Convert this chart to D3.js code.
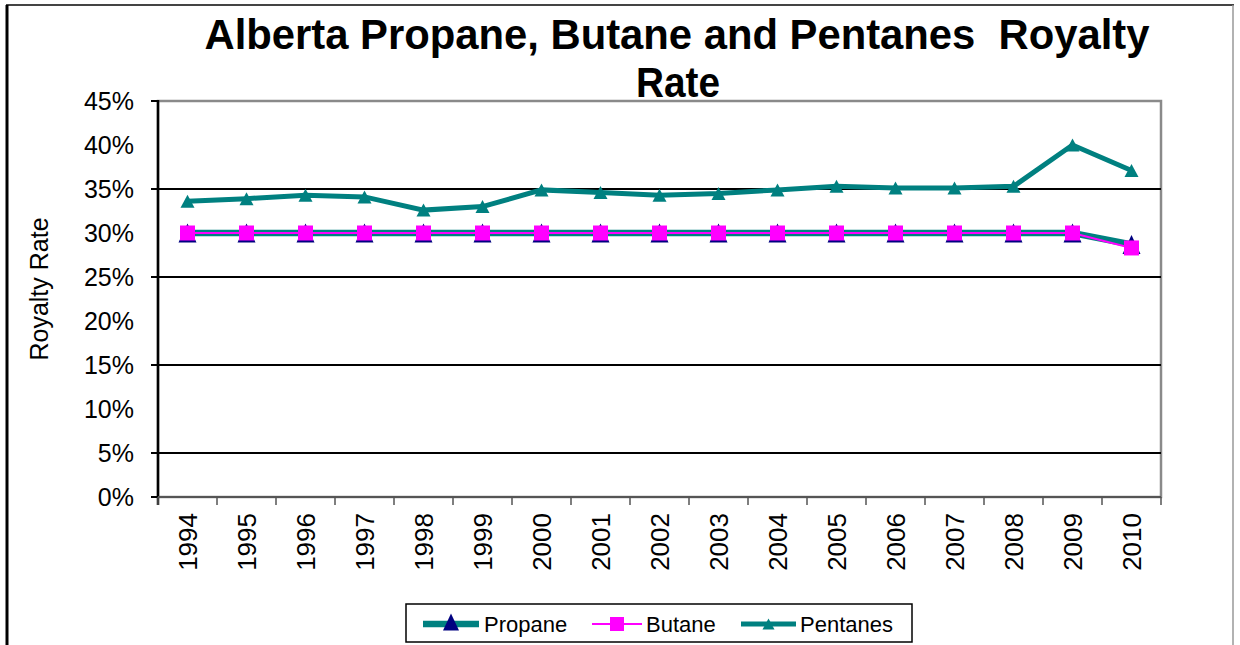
<!DOCTYPE html>
<html>
<head>
<meta charset="utf-8">
<script src="https://cdn.jsdelivr.net/npm/d3@7"></script>
<style>
  body { margin: 0; background: #fff; }
  svg { display: block; font-family: "Liberation Sans", Arial, sans-serif; }
</style>
</head>
<body>
<svg id="chart" width="1240" height="645"></svg>
<script>
// data
const years = ['1994', '1995', '1996', '1997', '1998', '1999', '2000', '2001', '2002',
    '2003', '2004', '2005', '2006', '2007', '2008', '2009', '2010'];
const propane = [30, 30, 30, 30, 30, 30, 30, 30, 30, 30, 30, 30, 30, 30, 30, 30, 28.7];
const butane = [30, 30, 30, 30, 30, 30, 30, 30, 30, 30, 30, 30, 30, 30, 30, 30, 28.3];
const pentanes = [33.6, 33.9, 34.3, 34.1, 32.6, 33.0, 34.9, 34.6, 34.3, 34.5, 34.9, 35.3,
    35.1, 35.1, 35.3, 40.0, 37.1];
const yTicks = [0, 5, 10, 15, 20, 25, 30, 35, 40, 45];
const gridTicks = [5, 15, 25, 35];
const majorTicks = [0, 5, 15, 25, 35, 45];

const teal = '#008080', pink = '#ff00ff', navy = '#000080';

const svg = d3.select('#chart');
const margin = { top: 101, left: 158, right: 1161, bottom: 497 };

// page frame
svg.append('line').attr('x1', 6).attr('y1', 5).attr('x2', 1234).attr('y2', 5)
    .style('stroke', '#444').style('stroke-width', 2);
svg.append('line').attr('x1', 7).attr('y1', 5).attr('x2', 7).attr('y2', 645)
    .style('stroke', '#000').style('stroke-width', 3);
svg.append('line').attr('x1', 1233).attr('y1', 5).attr('x2', 1233).attr('y2', 645)
    .style('stroke', '#999').style('stroke-width', 1.5);

const x = d3.scaleBand().domain(years).range([margin.left, margin.right]).padding(0);
const y = d3.scaleLinear().domain([0, 45]).range([margin.bottom, margin.top]);
const cx = function (d) { return x(d) + x.bandwidth() / 2; };

// title
svg.append('text').attr('x', 677).attr('y', 49).attr('text-anchor', 'middle')
    .attr('textLength', 945).attr('lengthAdjust', 'spacingAndGlyphs')
    .style('font-size', '42px').style('font-weight', 'bold').style('white-space', 'pre')
    .text('Alberta Propane, Butane and Pentanes  Royalty');
svg.append('text').attr('x', 678).attr('y', 97).attr('text-anchor', 'middle')
    .attr('textLength', 84).attr('lengthAdjust', 'spacingAndGlyphs')
    .style('font-size', '42px').style('font-weight', 'bold')
    .text('Rate');

// plot area
svg.append('rect').attr('x', margin.left).attr('y', margin.top)
    .attr('width', margin.right - margin.left).attr('height', margin.bottom - margin.top)
    .style('fill', '#fff').style('stroke', '#8a8a8a').style('stroke-width', 2.5);

// gridlines
svg.append('g').selectAll('line').data(gridTicks).join('line')
    .attr('x1', margin.left - 7).attr('x2', margin.right)
    .attr('y1', function (d) { return y(d); }).attr('y2', function (d) { return y(d); })
    .style('stroke', '#000').style('stroke-width', 2);

// y axis
svg.append('g').attr('transform', 'translate(' + margin.left + ',0)')
    .call(d3.axisLeft(y).tickValues(yTicks).tickSize(0).tickPadding(24)
        .tickFormat(function (d) { return d + '%'; }))
    .call(function (g) {
        g.select('.domain').remove();
        g.selectAll('.tick text').style('font-size', '25px').style('font-family', null).attr('fill', '#000');
    });
svg.append('g').selectAll('line').data(majorTicks).join('line')
    .attr('x1', margin.left - 7).attr('x2', margin.left)
    .attr('y1', function (d) { return y(d); }).attr('y2', function (d) { return y(d); })
    .style('stroke', '#000').style('stroke-width', 2);
svg.append('line').attr('x1', margin.left).attr('y1', margin.top - 1)
    .attr('x2', margin.left).attr('y2', margin.bottom + 8)
    .style('stroke', '#000').style('stroke-width', 2.5);

svg.append('text').attr('transform', 'translate(48,289) rotate(-90)')
    .attr('text-anchor', 'middle').style('font-size', '25px').text('Royalty Rate');

// x axis
svg.append('g').attr('transform', 'translate(0,' + margin.bottom + ')')
    .call(d3.axisBottom(x).tickSize(0))
    .call(function (g) {
        g.select('.domain').remove();
        g.selectAll('.tick text')
            .style('font-size', '26px').style('font-family', null).attr('fill', '#000')
            .attr('text-anchor', 'end')
            .attr('transform', 'rotate(-90)')
            .attr('x', -16).attr('y', 0).attr('dy', '0.35em');
    });
svg.append('line').attr('x1', margin.left).attr('x2', margin.right)
    .attr('y1', margin.bottom).attr('y2', margin.bottom)
    .style('stroke', '#555').style('stroke-width', 2);
const bounds = years.map(function (d) { return x(d); }).concat([margin.right]);
svg.append('g').selectAll('line').data(bounds).join('line')
    .attr('x1', function (d) { return d; }).attr('x2', function (d) { return d; })
    .attr('y1', margin.bottom).attr('y2', margin.bottom + 8)
    .style('stroke', '#555').style('stroke-width', 1.5);

// series
const line = function (vals) {
    return d3.line().x(function (d, i) { return cx(years[i]); })
        .y(function (d) { return y(d); })(vals);
};
const tri = function (w, h) {
    return 'M0,' + (-h / 2) + 'L' + (w / 2) + ',' + (h / 2) + 'L' + (-w / 2) + ',' + (h / 2) + 'Z';
};

svg.append('path').attr('d', line(propane))
    .style('fill', 'none').style('stroke', teal).style('stroke-width', 6.5);
svg.append('g').selectAll('path').data(propane).join('path')
    .attr('transform', function (d, i) { return 'translate(' + cx(years[i]) + ',' + y(d) + ')'; })
    .attr('d', tri(18, 19)).style('fill', navy);

svg.append('path').attr('d', line(butane))
    .style('fill', 'none').style('stroke', pink).style('stroke-width', 2);
svg.append('g').selectAll('rect').data(butane).join('rect')
    .attr('x', function (d, i) { return cx(years[i]) - 7.5; })
    .attr('y', function (d) { return y(d) - 7.5; })
    .attr('width', 15).attr('height', 15).style('fill', pink);

svg.append('path').attr('d', line(pentanes))
    .style('fill', 'none').style('stroke', teal).style('stroke-width', 5);
svg.append('g').selectAll('path').data(pentanes).join('path')
    .attr('transform', function (d, i) { return 'translate(' + cx(years[i]) + ',' + y(d) + ')'; })
    .attr('d', tri(14, 13)).style('fill', teal);

// legend
const lg = svg.append('g');
lg.append('rect').attr('x', 406).attr('y', 604).attr('width', 506).attr('height', 38)
    .style('fill', '#fff').style('stroke', '#000').style('stroke-width', 1.5);
const legendItems = [
    { name: 'Propane', x0: 423, x1: 479, tx: 484, color: teal, width: 6.5 },
    { name: 'Butane', x0: 592, x1: 642, tx: 646, color: pink, width: 2 },
    { name: 'Pentanes', x0: 741, x1: 796, tx: 800, color: teal, width: 5 }
];
const ly = 624;
legendItems.forEach(function (item, k) {
    lg.append('line').attr('x1', item.x0).attr('x2', item.x1).attr('y1', ly).attr('y2', ly)
        .style('stroke', item.color).style('stroke-width', item.width);
    const mx = (item.x0 + item.x1) / 2;
    if (k === 0) {
        lg.append('path').attr('transform', 'translate(' + mx + ',' + (ly - 2) + ')')
            .attr('d', tri(16, 17)).style('fill', navy);
    } else if (k === 1) {
        lg.append('rect').attr('x', mx - 7).attr('y', ly - 7).attr('width', 14).attr('height', 14)
            .style('fill', pink);
    } else {
        lg.append('path').attr('transform', 'translate(' + mx + ',' + ly + ')')
            .attr('d', tri(12, 11)).style('fill', teal);
    }
    lg.append('text').attr('x', item.tx).attr('y', ly).attr('dy', '0.35em')
        .style('font-size', '22px').text(item.name);
});
</script>
</body>
</html>
